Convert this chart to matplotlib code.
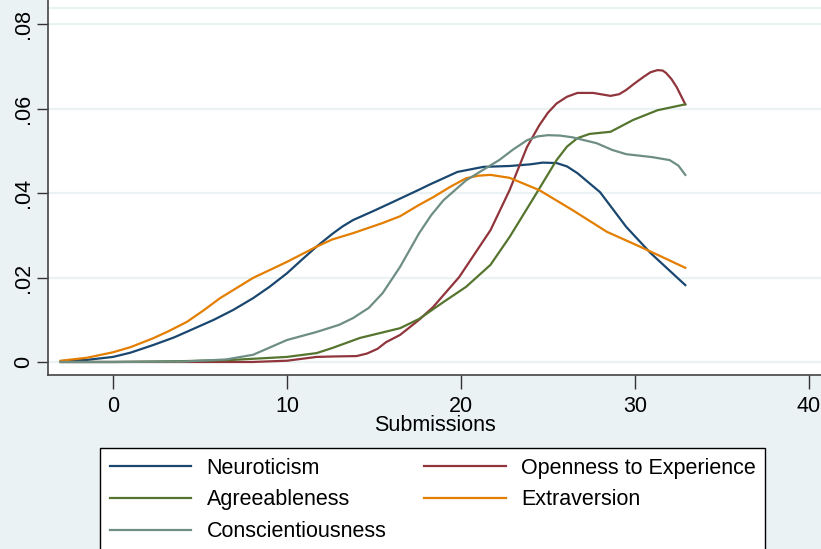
import numpy as np
import matplotlib.pyplot as plt

plt.rcParams['font.family'] = ['Liberation Sans', 'DejaVu Sans']

# kernel density estimates of submissions by personality trait
neuro_x = [-3, -1.5, 0, 1, 2.3, 3.5, 4.6, 5.8, 6.9, 8.05, 9, 10, 10.8, 11.7, 12.6,
           13.2, 13.8, 15.0, 16.1, 17.6, 18.2, 19.8, 21.3, 22.8, 24.0, 24.7, 25.5,
           26.1, 26.7, 28.0, 29.5, 30.9, 32.9]
neuro_y = [0.0002, 0.0005, 0.0012, 0.0022, 0.0040, 0.0058, 0.0078, 0.0100, 0.0123,
           0.0151, 0.0178, 0.0210, 0.0240, 0.0273, 0.0303, 0.0321, 0.0336, 0.0358,
           0.0379, 0.0408, 0.0420, 0.0450, 0.0462, 0.0464, 0.0468, 0.0472, 0.0471,
           0.0463, 0.0447, 0.0402, 0.0320, 0.0258, 0.0182]

open_x = [-3, 0, 4, 8, 10, 11.7, 12.6, 14.0, 14.6, 15.2, 15.7, 16.5, 17.6, 18.4,
          19.9, 21.7, 22.8, 23.8, 24.5, 25.0, 25.5, 26.1, 26.7, 27.6, 28.6, 29.1,
          29.5, 30.0, 30.5, 30.9, 31.3, 31.6, 31.8, 32.1, 32.4, 32.9]
open_y = [0.0, 0.0, 0.0, 0.0, 0.0003, 0.0012, 0.0013, 0.0014, 0.0020, 0.0031, 0.0047,
          0.0064, 0.0100, 0.0130, 0.0201, 0.0312, 0.0407, 0.0509, 0.0560, 0.0590,
          0.0612, 0.0628, 0.0637, 0.0637, 0.0630, 0.0634, 0.0644, 0.0660, 0.0675,
          0.0686, 0.0691, 0.0690, 0.0684, 0.0670, 0.0651, 0.0610]

agree_x = [-3, 0, 4, 6.9, 10, 11.7, 12.6, 14.2, 16.5, 17.6, 19.0, 20.3, 21.7, 22.8,
           24.1, 25.5, 26.1, 26.7, 27.4, 28.6, 29.9, 31.3, 32.9]
agree_y = [0.0, 0.0, 0.0002, 0.0005, 0.0012, 0.0021, 0.0033, 0.0057, 0.0080, 0.0102,
           0.0142, 0.0178, 0.0230, 0.0296, 0.0383, 0.0478, 0.0510, 0.0530, 0.0540,
           0.0545, 0.0573, 0.0596, 0.0610]

extra_x = [-3, -1.5, 0, 1, 2.3, 3.2, 4.25, 5.2, 6.15, 7.1, 8.05, 10, 11.7, 12.6,
           13.8, 15.5, 16.5, 17.6, 18.4, 19.4, 20.3, 21.0, 21.7, 22.8, 24.5, 26.4,
           28.4, 30.3, 32.9]
extra_y = [0.0003, 0.0010, 0.0023, 0.0035, 0.0056, 0.0073, 0.0095, 0.0122, 0.0151,
           0.0175, 0.0199, 0.0237, 0.0273, 0.0290, 0.0305, 0.0329, 0.0345, 0.0372,
           0.0390, 0.0415, 0.0435, 0.0441, 0.0443, 0.0436, 0.0407, 0.0360, 0.0308,
           0.0273, 0.0223]

consc_x = [-3, 0, 4, 6.5, 8.05, 10, 11.7, 13.0, 13.8, 14.7, 15.5, 16.5, 17.6, 18.3,
           19.0, 20.3, 21.2, 22.2, 23.0, 23.8, 24.4, 25.0, 25.7, 26.4, 27.8, 28.7,
           29.5, 31.0, 32.0, 32.5, 32.9]
consc_y = [0.0, 0.0, 0.0001, 0.0006, 0.0017, 0.0052, 0.0071, 0.0088, 0.0104, 0.0128,
           0.0163, 0.0225, 0.0305, 0.0348, 0.0383, 0.0430, 0.0453, 0.0478, 0.0503,
           0.0525, 0.0534, 0.0537, 0.0536, 0.0532, 0.0518, 0.0502, 0.0492, 0.0485,
           0.0478, 0.0465, 0.0443]

bg = '#EAF2F3'
fig = plt.figure(figsize=(8.21, 5.49), dpi=100, facecolor=bg)
ax = fig.add_axes([48 / 821, 1 - 375 / 549, 1 - 48 / 821, 375 / 549])
ax.set_facecolor('white')

for yv in [0, 0.02, 0.04, 0.06, 0.08]:
    ax.axhline(yv, color=bg, lw=1.6, zorder=0)
ax.axhline(0.0838, color=bg, lw=1.6, zorder=0)

lw = 1.6
h_neuro, = ax.plot(neuro_x, neuro_y, color='#1A476F', lw=lw, label='Neuroticism')
h_open, = ax.plot(open_x, open_y, color='#90353B', lw=lw, label='Openness to Experience')
h_agree, = ax.plot(agree_x, agree_y, color='#55752F', lw=lw, label='Agreeableness')
h_extra, = ax.plot(extra_x, extra_y, color='#E37E00', lw=lw, label='Extraversion')
h_consc, = ax.plot(consc_x, consc_y, color='#6E8E84', lw=lw, label='Conscientiousness')

ax.set_xlim(-3.736, 40.7)
ax.set_ylim(-0.00308, 0.0857)
ax.set_xticks([0, 10, 20, 30, 40])
ax.set_yticks([0, 0.02, 0.04, 0.06, 0.08])
ax.set_yticklabels(['0', '.02', '.04', '.06', '.08'], rotation=90, va='center')
ax.tick_params(axis='both', labelsize=15.5, color='#333333', width=1)
ax.tick_params(axis='y', length=8, pad=2)
ax.tick_params(axis='x', length=10, pad=5)

for side in ['top', 'right']:
    ax.spines[side].set_visible(False)
for side in ['left', 'bottom']:
    ax.spines[side].set_color('#444444')
    ax.spines[side].set_linewidth(1.2)

ax.set_xlabel('Submissions', fontsize=15.5, labelpad=-1)

leg = fig.legend(handles=[h_neuro, h_agree, h_consc, h_open, h_extra], ncol=2,
                 loc='upper left', bbox_to_anchor=(100 / 821, 1 - 448 / 549),
                 fontsize=15.5, frameon=True, fancybox=False, edgecolor='black',
                 facecolor='white', framealpha=1, handlelength=3.8,
                 handletextpad=0.7, columnspacing=1.75, labelspacing=0.5,
                 borderpad=0.45, borderaxespad=0)
leg.get_frame().set_linewidth(1.0)

fig.savefig('out.png', dpi=100, facecolor=bg)
